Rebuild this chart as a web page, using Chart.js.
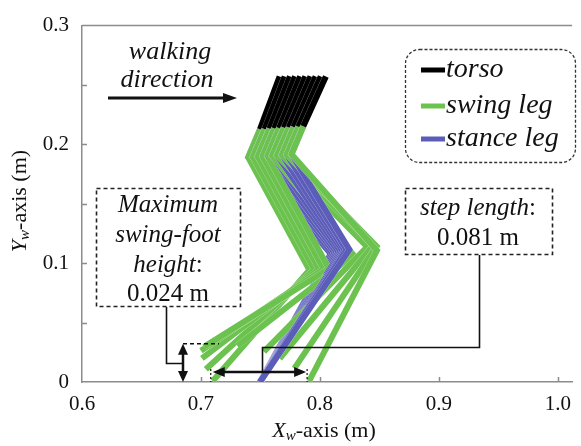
<!DOCTYPE html>
<html>
<head>
<meta charset="utf-8">
<script src="https://cdn.jsdelivr.net/npm/chart.js@4.4.0/dist/chart.umd.min.js"></script>
<style>
  html, body { margin: 0; padding: 0; background: #fff; }
  #wrap { width: 581px; height: 446px; }
</style>
</head>
<body>
<div id="wrap"><canvas id="gait"></canvas></div>
<script>
// stick figure frames (metres)
const hipX = [0.7496, 0.7536, 0.7577, 0.7617, 0.7658, 0.7698, 0.7739, 0.7779, 0.7820, 0.7860];
const hipY = [0.2127, 0.2129, 0.2133, 0.2135, 0.2138, 0.2141, 0.2143, 0.2146, 0.2149, 0.2152];
const headX = [0.7661, 0.7704, 0.7748, 0.7791, 0.7834, 0.7878, 0.7921, 0.7964, 0.8007, 0.8050];
const headY = [0.2572, 0.2572, 0.2572, 0.2572, 0.2572, 0.2572, 0.2572, 0.2572, 0.2572, 0.2572];
const pelvisX = [0.7397, 0.7437, 0.7478, 0.7518, 0.7559, 0.7599, 0.7640, 0.7680, 0.7721, 0.7761];
const pelvisY = [0.1892, 0.1894, 0.1898, 0.1900, 0.1903, 0.1906, 0.1908, 0.1911, 0.1914, 0.1917];
const swingKneeX = [0.7912, 0.7953, 0.7993, 0.8031, 0.8076, 0.8282, 0.8398, 0.8450, 0.8476, 0.8479];
const swingKneeY = [0.0942, 0.0945, 0.0949, 0.0950, 0.0953, 0.1068, 0.1138, 0.1152, 0.1141, 0.1107];
const swingFootX = [0.7099, 0.7041, 0.7008, 0.7000, 0.7025, 0.7306, 0.7529, 0.7661, 0.7785, 0.7909];
const swingFootY = [0.0008, 0.0107, 0.0198, 0.0264, 0.0297, 0.0305, 0.0256, 0.0198, 0.0115, 0.0008];
const stanceKneeX = [0.8091, 0.8107, 0.8124, 0.8140, 0.8157, 0.8174, 0.8190, 0.8207, 0.8223, 0.8248];
const stanceKneeY = [0.1080, 0.1084, 0.1088, 0.1092, 0.1096, 0.1101, 0.1105, 0.1109, 0.1113, 0.1113];
const stanceFootX = 0.7496;
const stanceFootY = 0.0;

const xTicks = [0.6, 0.7, 0.8, 0.9, 1.0];
const yTicks = [0, 0.1, 0.2, 0.3];
const legendLabels = ['torso', 'swing leg', 'stance leg'];

const BLACK = '#000000';
const GREEN = '#6cc24e';
const BLUE = '#5b5db8';
const AXIS = '#8c8c8c';
const FONT = '"Liberation Serif", "Times New Roman", serif';
const LW = 6;

// one polyline, with a faint white edge under it so overlapping frames show light stripes
function limb(label, pts, color, order) {
  var base = { showLine: true, pointRadius: 0, fill: false, borderCapStyle: 'butt', borderJoinStyle: 'miter' };
  return [
    Object.assign({ label: '', data: pts, borderColor: 'rgba(255,255,255,0.5)', borderWidth: LW + 0.6, order: order + 1 }, base),
    Object.assign({ label: label, data: pts, borderColor: color, borderWidth: LW, order: order }, base)
  ];
}

var datasets = [];
hipX.forEach(function(hx, i) {
  var hip = { x: hx, y: hipY[i] };
  var pelvis = { x: pelvisX[i], y: pelvisY[i] };
  var base = (hipX.length - i) * 10;   // earlier frames go underneath
  datasets = datasets.concat(
    limb(legendLabels[2], [hip, pelvis, { x: stanceKneeX[i], y: stanceKneeY[i] }, { x: stanceFootX, y: stanceFootY }], BLUE, base + 4),
    limb(legendLabels[1], [hip, pelvis, { x: swingKneeX[i], y: swingKneeY[i] }, { x: swingFootX[i], y: swingFootY[i] }], GREEN, base + 2),
    limb(legendLabels[0], [hip, { x: headX[i], y: headY[i] }], BLACK, base)
  );
});

// text made of italic / upright pieces, centred on cx
function textRuns(ctx, parts, cx, cy, size) {
  var w = 0;
  parts.forEach(function(p) {
    ctx.font = (p[1] ? 'italic ' : '') + (p[2] || size) + 'px ' + FONT;
    w += ctx.measureText(p[0]).width;
  });
  var xx = cx - w / 2;
  ctx.textAlign = 'left';
  ctx.textBaseline = 'middle';
  parts.forEach(function(p) {
    ctx.font = (p[1] ? 'italic ' : '') + (p[2] || size) + 'px ' + FONT;
    ctx.fillText(p[0], xx, cy + (p[3] || 0));
    xx += ctx.measureText(p[0]).width;
  });
}

function head(ctx, x, y, ang, len, half) {
  ctx.beginPath();
  ctx.moveTo(x, y);
  ctx.lineTo(x - len * Math.cos(ang) + half * Math.sin(ang), y - len * Math.sin(ang) - half * Math.cos(ang));
  ctx.lineTo(x - len * Math.cos(ang) - half * Math.sin(ang), y - len * Math.sin(ang) + half * Math.cos(ang));
  ctx.closePath();
  ctx.fill();
}

function arrow(ctx, x1, y1, x2, y2, both, lw, len, half) {
  var ang = Math.atan2(y2 - y1, x2 - x1);
  var sx = both ? x1 + len * 0.8 * Math.cos(ang) : x1;
  var sy = both ? y1 + len * 0.8 * Math.sin(ang) : y1;
  ctx.lineWidth = lw;
  ctx.beginPath();
  ctx.moveTo(sx, sy);
  ctx.lineTo(x2 - len * 0.8 * Math.cos(ang), y2 - len * 0.8 * Math.sin(ang));
  ctx.stroke();
  head(ctx, x2, y2, ang, len, half);
  if (both) head(ctx, x1, y1, ang + Math.PI, len, half);
}

function dashedBox(ctx, x, y, w, h) {
  ctx.save();
  ctx.setLineDash([4, 3]);
  ctx.lineWidth = 1.6;
  ctx.strokeStyle = '#222';
  ctx.strokeRect(x, y, w, h);
  ctx.restore();
}

const overlay = {
  id: 'overlay',
  afterDraw: function(chart) {
    var ctx = chart.ctx, a = chart.chartArea;
    var sx = chart.scales.x, sy = chart.scales.y;
    ctx.save();

    // top frame line and inner ticks
    ctx.strokeStyle = AXIS;
    ctx.lineWidth = 1.5;
    ctx.beginPath();
    ctx.moveTo(a.left, a.top);
    ctx.lineTo(a.right, a.top);
    [0.05, 0.1, 0.15, 0.2, 0.25].forEach(function(v) {
      var p = Math.round(sy.getPixelForValue(v)) + 0.5;
      ctx.moveTo(a.left, p);
      ctx.lineTo(a.left + 5, p);
    });
    xTicks.slice(1).forEach(function(v) {
      var p = Math.round(sx.getPixelForValue(v)) + 0.5;
      ctx.moveTo(p, a.bottom);
      ctx.lineTo(p, a.bottom - 5);
    });
    ctx.stroke();

    ctx.fillStyle = '#111';
    ctx.strokeStyle = '#111';

    // axis titles
    textRuns(ctx, [['X', true], ['w', true, 15, 5], ['-axis (m)', false]], 324, 431, 22);
    ctx.save();
    ctx.translate(20, 201);
    ctx.rotate(-Math.PI / 2);
    textRuns(ctx, [['Y', true], ['w', true, 15, 5], ['-axis (m)', false]], 0, 0, 22);
    ctx.restore();

    // walking direction
    textRuns(ctx, [['walking', true]], 170, 52, 26);
    textRuns(ctx, [['direction', true]], 167, 80, 26);
    arrow(ctx, 108, 98, 237, 98, false, 3, 14, 5);

    // legend
    ctx.save();
    ctx.setLineDash([3, 2]);
    ctx.lineWidth = 1.3;
    ctx.strokeStyle = '#333';
    ctx.beginPath();
    ctx.roundRect(405.5, 49.5, 170, 113, 14);
    ctx.stroke();
    ctx.restore();
    [BLACK, GREEN, BLUE].forEach(function(c, i) {
      var yy = [70, 106, 139][i];
      ctx.strokeStyle = c;
      ctx.lineWidth = 5;
      ctx.beginPath();
      ctx.moveTo(421, yy);
      ctx.lineTo(445, yy);
      ctx.stroke();
      ctx.font = 'italic 28px ' + FONT;
      ctx.textAlign = 'left';
      ctx.textBaseline = 'middle';
      ctx.fillText(legendLabels[i], 446, yy);
    });
    ctx.strokeStyle = '#111';

    // maximum swing-foot height
    dashedBox(ctx, 96.5, 188.5, 144, 118);
    textRuns(ctx, [['Maximum', true]], 168, 205, 25);
    textRuns(ctx, [['swing-foot', true]], 168, 235, 25);
    textRuns(ctx, [['height', true], [':', false]], 168, 265, 25);
    textRuns(ctx, [['0.024 m', false]], 168, 294, 25);
    var topY = sy.getPixelForValue(Math.max.apply(null, swingFootY));
    var baseY = sy.getPixelForValue(0);
    ctx.save();
    ctx.setLineDash([4, 3]);
    ctx.lineWidth = 1.4;
    ctx.beginPath();
    ctx.moveTo(183, topY - 2);
    ctx.lineTo(219, topY - 2);
    ctx.stroke();
    ctx.restore();
    ctx.lineWidth = 1.6;
    ctx.beginPath();
    ctx.moveTo(166.5, 307);
    ctx.lineTo(166.5, 363.5);
    ctx.lineTo(183, 363.5);
    ctx.stroke();
    arrow(ctx, 183, topY - 2, 183, baseY, true, 2.5, 11, 5);

    // step length
    dashedBox(ctx, 405.5, 188.5, 147, 66);
    textRuns(ctx, [['step length', true], [':', false]], 478, 208, 25);
    textRuns(ctx, [['0.081 m', false]], 478, 238, 25);
    var x0 = sx.getPixelForValue(swingFootX[0]);
    var x1 = sx.getPixelForValue(swingFootX[swingFootX.length - 1]);
    var ay = 372;
    ctx.lineWidth = 1.6;
    ctx.beginPath();
    ctx.moveTo(479.5, 255);
    ctx.lineTo(479.5, 347.5);
    ctx.lineTo(262.5, 347.5);
    ctx.lineTo(262.5, ay);
    ctx.stroke();
    ctx.save();
    ctx.setLineDash([2, 2]);
    ctx.lineWidth = 1.2;
    ctx.beginPath();
    ctx.moveTo(x0 - 2, ay - 3);
    ctx.lineTo(x0 - 2, baseY);
    ctx.moveTo(x1 - 2, ay - 3);
    ctx.lineTo(x1 - 2, baseY);
    ctx.stroke();
    ctx.restore();
    arrow(ctx, x0, ay, x1 - 3, ay, true, 2.5, 12, 5);

    ctx.restore();
  }
};

new Chart(document.getElementById('gait'), {
  type: 'scatter',
  data: { datasets: datasets },
  options: {
    responsive: true,
    maintainAspectRatio: false,
    animation: false,
    layout: { padding: { left: 0, top: 18, right: 0, bottom: 0 } },
    plugins: {
      legend: { display: false },
      tooltip: { enabled: false }
    },
    scales: {
      x: {
        type: 'linear',
        min: xTicks[0],
        max: 1.012,
        afterFit: function(s) { s.height = 64; },
        grid: { display: false, drawTicks: false },
        border: { display: true, color: AXIS, width: 1.5 },
        ticks: {
          stepSize: 0.1,
          includeBounds: false,
          padding: 10,
          color: '#111',
          font: { family: FONT, size: 21 },
          maxRotation: 0,
          callback: function(v) { return v.toFixed(1); }
        }
      },
      y: {
        type: 'linear',
        min: yTicks[0],
        max: yTicks[yTicks.length - 1],
        afterFit: function(s) { s.width = 82; },
        grid: { display: false, drawTicks: false },
        border: { display: true, color: AXIS, width: 1.5 },
        ticks: {
          stepSize: 0.1,
          padding: 13,
          color: '#111',
          font: { family: FONT, size: 21 },
          callback: function(v) { return Math.abs(v) < 1e-9 ? '0' : v.toFixed(1); }
        }
      }
    }
  },
  plugins: [overlay]
});
</script>
</body>
</html>
